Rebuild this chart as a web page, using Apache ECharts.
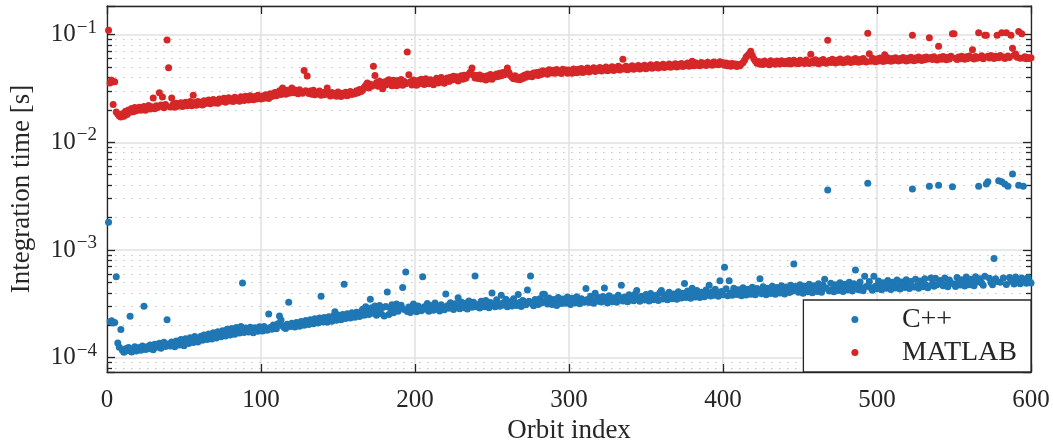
<!DOCTYPE html>
<html>
<head>
<meta charset="utf-8">
<script src="https://cdn.jsdelivr.net/npm/echarts@6.0.0/dist/echarts.min.js"></script>
<style>
html,body{margin:0;padding:0;background:#fff;}
#chart{width:1053px;height:444px;}
</style>
</head>
<body>
<div id="chart"></div>
<script>
// Orbit indices start at 1
const firstOrbitIndex = 1;
const xTickLabels = [0, 100, 200, 300, 400, 500, 600];
const yTickExponents = [-4, -3, -2, -1];
const seriesNames = ['C++', 'MATLAB'];

// C++ integration time, microseconds (orbit 1..600)
const cppTimesUs = [
1810,215,220,210,212,565,137,125,182,117,112,121,116,124,242,113,119,126,115,122,
124,117,128,300,119,126,121,131,123,118,133,125,129,136,122,131,139,127,225,134,
128,140,133,126,143,136,131,147,138,129,150,141,135,153,144,138,157,146,140,151,
158,145,162,151,147,166,155,149,170,158,152,174,161,156,178,165,159,183,168,162,
186,172,165,190,176,169,194,493,171,188,180,173,191,178,170,189,182,176,193,184,
177,195,186,180,254,190,183,201,192,185,206,244,223,198,190,186,204,327,195,209,
199,192,212,203,196,217,207,200,221,210,203,225,214,206,229,218,210,233,371,214,
236,221,213,240,226,218,245,267,222,249,234,225,252,480,231,256,242,233,261,246,
237,264,250,241,268,282,247,296,275,252,348,290,258,301,247,284,305,255,292,243,
298,407,252,287,310,261,293,315,270,289,306,447,280,624,268,295,263,288,314,276,
267,301,285,272,565,296,281,318,269,305,290,276,322,284,298,271,310,292,279,390,
303,287,324,295,280,316,299,360,285,328,306,290,320,283,335,301,294,326,573,297,
311,289,334,305,296,340,302,291,325,399,309,297,345,315,300,380,321,306,348,296,
330,314,301,352,318,305,385,326,299,340,321,309,425,334,573,317,303,346,328,311,
353,322,388,388,340,315,358,329,312,347,334,305,362,325,318,351,337,320,365,330,
312,356,340,322,368,331,316,353,343,327,438,347,325,372,336,319,397,350,333,362,
328,369,444,338,321,375,346,331,360,341,327,379,350,470,335,366,348,330,383,343,
355,338,390,420,349,334,372,357,342,386,353,336,395,361,344,378,358,340,400,420,
350,384,363,345,405,367,352,389,370,348,410,374,357,396,487,362,415,378,355,440,
399,366,420,382,361,404,385,368,425,390,470,373,408,379,431,394,371,518,412,383,
690,436,376,518,398,380,441,402,385,427,406,375,445,395,381,432,410,387,450,399,
384,438,414,540,391,455,403,383,442,418,395,460,407,388,447,421,398,465,411,390,
452,425,402,470,414,740,457,428,405,475,418,397,461,432,408,480,422,400,466,437,
412,485,426,404,470,535,441,3610,416,490,430,409,475,445,420,495,434,411,480,449,
424,500,438,415,485,650,453,428,505,442,418,570,457,4160,510,446,422,570,461,436,
515,450,426,495,465,440,520,454,430,500,469,444,525,458,434,505,473,448,530,462,
438,510,3680,452,535,466,442,515,481,456,540,470,446,3900,550,485,460,545,474,4000,
520,489,464,550,478,454,525,493,3860,482,458,555,497,472,530,486,462,560,501,476,
535,490,466,565,505,3900,540,494,470,570,4100,4300,545,498,474,832,540,509,4400,502,
4300,550,4100,478,3900,555,513,5070,482,560,506,4000,486,548,3900,517,490,556,510,494
];

// MATLAB integration time, milliseconds (orbit 1..600)
const matlabTimesMs = [
109.6,35.6,37.7,22.4,36.5,19.1,18.3,17.6,17.2,18.4,17.5,19.4,18.1,20.0,19.0,20.6,19.2,21.0,19.6,20.3,
21.2,19.8,20.6,21.5,19.9,20.9,22.0,20.4,21.4,25.8,20.5,21.9,21.0,28.9,22.2,26.3,20.9,22.5,89.1,49.4,
21.3,25.8,22.6,21.2,23.0,21.6,22.4,23.3,21.5,22.9,23.6,21.8,22.7,23.9,21.9,27.3,23.4,22.1,24.0,22.6,
23.5,22.2,24.3,22.9,23.6,24.7,22.8,24.1,25.0,23.2,24.4,23.0,25.3,23.9,24.6,25.6,23.6,24.9,26.0,24.2,
25.2,23.9,26.2,24.6,25.5,24.1,26.5,25.0,24.4,26.8,25.4,24.7,27.0,25.8,24.9,26.6,25.3,27.3,26.0,25.2,
26.9,25.6,27.7,26.3,25.5,28.2,26.7,27.4,29.0,27.0,28.6,30.1,27.8,31.9,29.3,28.0,30.4,28.6,29.6,32.0,
28.9,30.6,29.2,28.3,30.8,29.5,28.6,46.5,30.2,41.2,28.4,29.9,28.0,30.5,27.6,29.1,28.2,30.0,27.4,28.8,
27.7,29.4,32.0,28.0,26.9,29.0,27.5,28.4,26.8,29.3,27.9,26.7,28.6,27.3,29.2,27.0,28.3,29.6,27.8,29.0,
28.2,30.1,28.9,31.0,29.6,30.5,32.4,33.8,35.5,32.0,34.6,33.1,50.8,41.8,36.0,33.2,37.0,34.3,31.5,36.4,
34.0,37.3,38.2,34.6,33.5,37.8,35.2,33.6,37.5,34.4,38.4,33.9,36.8,34.9,68.9,42.5,36.6,34.1,37.9,35.0,
33.8,37.6,35.0,38.5,36.0,34.5,39.0,36.7,34.9,38.2,36.4,34.2,37.3,39.4,35.6,37.8,39.9,36.3,35.4,38.7,
39.6,36.8,40.3,37.9,41.0,38.3,40.6,37.2,39.1,41.6,38.5,42.0,39.4,41.8,43.0,45.0,49.0,42.2,39.5,41.7,
39.2,42.3,38.8,41.0,40.0,37.9,41.5,39.0,42.6,38.6,41.8,40.4,43.2,40.8,43.8,41.5,44.6,42.4,45.3,49.0,
44.5,41.8,40.2,39.0,41.6,38.5,39.8,38.2,40.7,39.2,42.0,40.3,43.0,41.0,42.8,40.6,44.0,42.1,44.6,41.7,
45.0,42.6,46.2,43.8,45.6,42.9,47.2,46.6,44.0,46.8,43.7,47.5,44.6,46.0,43.5,47.8,45.2,46.9,43.9,47.0,
45.3,43.9,48.0,45.7,44.2,47.6,45.0,48.5,44.6,47.2,46.0,48.9,44.9,47.7,46.4,49.2,45.4,48.1,46.7,49.5,
45.9,48.5,47.0,50.0,46.2,48.8,47.3,50.3,46.5,49.0,47.7,50.8,46.9,49.4,59.0,48.0,51.0,47.2,49.8,48.4,
51.3,47.6,50.1,48.7,51.7,48.0,50.5,49.0,52.0,48.3,50.9,49.4,52.4,48.7,51.2,49.8,52.8,49.1,51.6,50.2,
53.0,49.5,52.0,50.5,53.4,49.9,52.3,50.9,53.7,50.2,52.7,51.2,54.0,50.6,53.0,51.6,54.4,51.0,53.3,56.5,
51.4,54.7,52.0,53.6,51.3,55.0,52.4,53.9,51.7,55.3,52.7,54.2,52.0,55.6,53.1,54.5,52.4,55.9,53.4,54.8,
52.0,54.6,51.4,53.8,50.9,54.0,51.8,53.3,50.6,52.9,51.5,53.6,55.0,58.0,62.0,64.0,66.5,70.0,64.5,59.8,
57.0,54.2,56.3,53.1,55.6,52.8,56.8,53.9,55.2,52.6,57.1,54.3,55.8,53.0,56.9,54.6,53.4,57.3,54.9,53.7,
56.6,54.0,57.5,53.5,55.9,57.8,54.3,56.2,53.8,58.0,54.8,56.5,54.1,58.3,55.3,53.9,65.6,56.8,54.5,58.6,
55.6,53.8,57.2,54.7,58.9,55.9,54.2,88.5,57.5,55.0,59.1,56.2,54.4,57.8,55.3,59.4,56.5,54.7,58.1,55.6,
59.6,56.8,55.0,58.4,55.9,59.9,57.1,55.3,58.7,56.2,60.1,57.4,55.6,102.8,66.6,56.5,60.4,57.7,55.9,59.3,
56.8,60.6,58.0,56.2,65.0,57.1,60.9,58.3,56.5,59.9,57.4,61.1,58.6,56.8,60.2,57.7,61.4,58.9,57.0,60.5,
58.0,61.6,98.5,57.3,60.8,58.3,61.9,59.2,57.6,61.0,58.6,62.1,59.5,93.8,61.3,58.9,62.4,59.8,58.2,77.9,
61.6,59.2,62.6,60.1,58.4,61.8,59.5,62.9,102.0,102.0,60.4,58.7,62.1,59.8,63.1,60.7,59.0,62.4,60.1,63.4,
61.0,72.6,59.3,62.6,60.4,104.0,61.3,63.6,59.6,98.5,98.5,62.9,60.7,63.9,61.6,59.9,63.1,98.5,61.0,64.1,
104.0,62.0,60.2,104.0,63.4,61.3,98.5,74.6,64.3,66.0,61.6,107.0,60.5,102.0,60.6,62.4,59.8,61.5,60.2,60.9
];

const FONT = '"Liberation Serif", "DejaVu Serif", serif';
const INK = '#262626';
const BLUE = '#1f77b4';
const RED = '#d62728';

const cppData = cppTimesUs.map((v, k) => [firstOrbitIndex + k, v * 1e-6]);
const matlabData = matlabTimesMs.map((v, k) => [firstOrbitIndex + k, v * 1e-3]);

const yMin = 7.35e-5, yMax = 0.1846;

function yLabel(v) {
  const l = Math.log10(v);
  const e = Math.round(l);
  if (Math.abs(l - e) > 1e-6 || yTickExponents.indexOf(e) < 0) return '';
  return '{b|10}{s|\u2212' + Math.abs(e) + '}';
}

const axisLineStyle = { color: INK, width: 1.3 };

const chart = echarts.init(document.getElementById('chart'), null, { renderer: 'canvas' });
chart.setOption({
  animation: false,
  backgroundColor: '#fff',
  grid: { left: 107, right: 22, top: 6, bottom: 72, containLabel: false, outerBoundsMode: 'none' },
  xAxis: [
    {
      type: 'value', min: 0, max: 600, interval: 100, position: 'bottom',
      name: 'Orbit index', nameLocation: 'middle', nameGap: 45,
      nameTextStyle: { fontFamily: FONT, fontSize: 27, color: INK },
      axisLine: { show: true, onZero: false, lineStyle: axisLineStyle },
      axisTick: { show: true, inside: true, length: 8, lineStyle: axisLineStyle },
      axisLabel: { fontFamily: FONT, fontSize: 25, color: INK, margin: 16,
        formatter: v => (xTickLabels.indexOf(v) >= 0 ? String(v) : '') },
      splitLine: { show: true, lineStyle: { color: '#e0e0e0', width: 1.5 } }
    },
    {
      type: 'value', min: 0, max: 600, interval: 100, position: 'top',
      axisLine: { show: true, onZero: false, lineStyle: axisLineStyle },
      axisTick: { show: true, inside: true, length: 8, lineStyle: axisLineStyle },
      axisLabel: { show: false },
      splitLine: { show: false }
    }
  ],
  yAxis: [
    {
      type: 'log', logBase: 10, min: yMin, max: yMax, position: 'left',
      name: 'Integration time [s]', nameLocation: 'middle', nameGap: 72,
      nameTextStyle: { fontFamily: FONT, fontSize: 27, color: INK },
      axisLine: { show: true, onZero: false, lineStyle: axisLineStyle },
      axisTick: { show: true, inside: true, length: 8, lineStyle: axisLineStyle },
      minorTick: { show: true, splitNumber: 9, length: 5, lineStyle: axisLineStyle },
      axisLabel: {
        margin: 10, showMinLabel: false, showMaxLabel: false, formatter: yLabel,
        rich: {
          b: { fontFamily: FONT, fontSize: 25, lineHeight: 30, color: INK },
          s: { fontFamily: FONT, fontSize: 19, lineHeight: 16, padding: [0, 0, 14, 1], color: INK }
        }
      },
      splitLine: { show: true, lineStyle: { color: '#e0e0e0', width: 1.5 } },
      minorSplitLine: { show: true, lineStyle: { color: '#c4c4c4', width: 1, type: [1.5, 6.5] } }
    },
    {
      type: 'log', logBase: 10, min: yMin, max: yMax, position: 'right',
      axisLine: { show: true, onZero: false, lineStyle: axisLineStyle },
      axisTick: { show: true, inside: true, length: 8, lineStyle: axisLineStyle },
      minorTick: { show: true, splitNumber: 9, length: 5, lineStyle: axisLineStyle },
      axisLabel: { show: false },
      splitLine: { show: false },
      minorSplitLine: { show: false }
    }
  ],
  legend: {
    data: seriesNames,
    orient: 'vertical',
    right: 22, bottom: 72,
    icon: 'circle',
    itemWidth: 60, itemHeight: 7, itemGap: 0,
    padding: [3, 14, 3, 48],
    backgroundColor: '#fff',
    borderColor: INK, borderWidth: 1.3, borderRadius: 0,
    textStyle: { fontFamily: FONT, fontSize: 28, color: INK, lineHeight: 33, padding: [0, 0, 0, 12] },
    selectedMode: false
  },
  series: [
    { name: seriesNames[0], type: 'scatter', xAxisIndex: 0, yAxisIndex: 0, data: cppData,
      symbol: 'circle', symbolSize: 7, itemStyle: { color: BLUE, opacity: 1 }, z: 3 },
    { name: seriesNames[1], type: 'scatter', xAxisIndex: 0, yAxisIndex: 0, data: matlabData,
      symbol: 'circle', symbolSize: 7, itemStyle: { color: RED, opacity: 1 }, z: 3 }
  ]
});
</script>
</body>
</html>
